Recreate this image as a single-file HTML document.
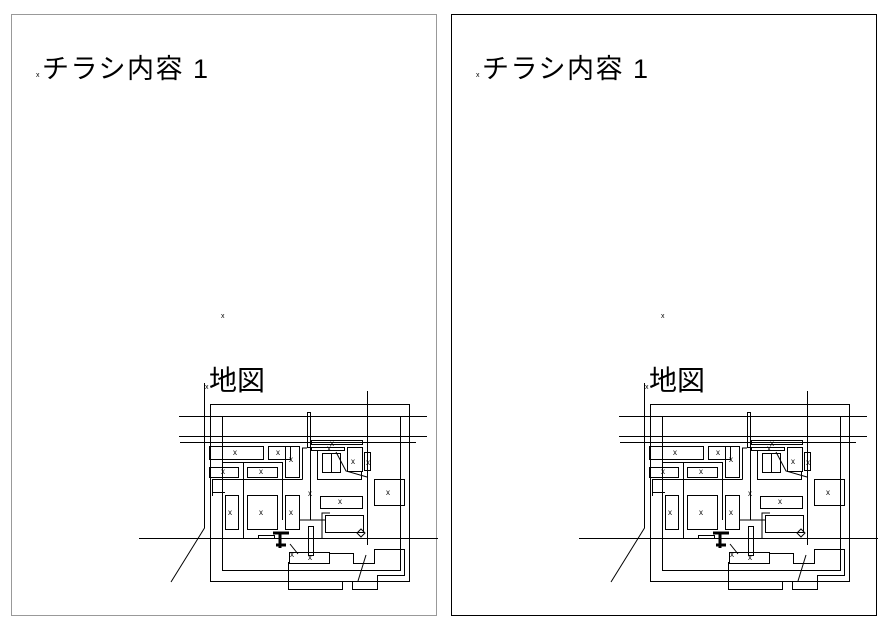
<!DOCTYPE html>
<html><head><meta charset="utf-8"><style>
html,body{margin:0;padding:0;background:#fff;width:894px;height:634px;overflow:hidden}
svg{display:block}
text{font-family:"Liberation Sans","Noto Sans CJK JP",sans-serif}
</style></head><body>
<svg width="894" height="634" viewBox="0 0 894 634" xmlns="http://www.w3.org/2000/svg">
<defs>
<g id="pg" fill="none" stroke="#000" stroke-width="1">
  <text x="42" y="78" font-size="27" letter-spacing="1.5" fill="#000" stroke="none">チラシ内容 1</text>
  <text x="36" y="77" font-size="7" fill="#000" stroke="none">x</text>
  <text x="221" y="318" font-size="7" fill="#000" stroke="none">x</text>
  <text x="209" y="390" font-size="28" fill="#000" stroke="none">地図</text>
  <text x="205" y="389" font-size="7" fill="#000" stroke="none">x</text>
  <rect x="210.5" y="404.5" width="199" height="177"/>
  <rect x="222.5" y="416.5" width="178" height="154"/>
  <line x1="179" y1="416.5" x2="427" y2="416.5"/>
  <line x1="179" y1="436.5" x2="427" y2="436.5"/>
  <line x1="180" y1="442.5" x2="416" y2="442.5"/>
  <line x1="139" y1="538.5" x2="438" y2="538.5"/>
  <polyline points="204.5,383 204.5,528 171,582"/>
  <polyline points="367.5,391 367.5,545"/>
  <line x1="366" y1="555" x2="358" y2="581"/>
  <rect x="209.5" y="446.5" width="54" height="13"/>
  <rect x="268.5" y="446.5" width="22" height="13"/>
  <rect x="285.5" y="446.5" width="14" height="31"/>
  <rect x="209.5" y="467.5" width="29" height="10"/>
  <rect x="247.5" y="467.5" width="30" height="10"/>
  <polyline points="212.5,496 212.5,479.5 302.5,479.5"/>
  <polyline points="212.5,479.5 212.5,492.5 225,492.5"/>
  <rect x="225.5" y="495.5" width="13" height="34"/>
  <rect x="247.5" y="495.5" width="30" height="34"/>
  <rect x="285.5" y="495.5" width="14" height="34"/>
  <line x1="243.5" y1="462" x2="243.5" y2="538"/>
  <line x1="282.5" y1="462" x2="282.5" y2="520"/>
  <polyline points="222.5,462.5 282.5,462.5"/>
  <polyline points="302.5,479.5 302.5,448 307,448"/>
  <rect x="307.5" y="412.5" width="3" height="35"/>
  <polyline points="310.5,447 310.5,520 300,520"/>
  <rect x="311.5" y="440.5" width="51" height="4"/>
  <rect x="311.5" y="447.5" width="33" height="3"/>
  <polyline points="317.5,451 317.5,479.5 361.5,479.5 361.5,471"/>
  <rect x="322.5" y="453.5" width="18" height="19"/>
  <line x1="331.5" y1="453" x2="331.5" y2="472"/>
  <polyline points="336,452 346,471 367,477"/>
  <rect x="347.5" y="447.5" width="15" height="24"/>
  <rect x="364.5" y="452.5" width="6" height="18"/>
  <rect x="374.5" y="479.5" width="30" height="26"/>
  <rect x="320.5" y="496.5" width="42" height="12"/>
  <rect x="325.5" y="515.5" width="38" height="17"/>
  <polyline points="322,538 322,513 330,513"/>
  <polyline points="300,520 325,520"/>
  <rect x="258.5" y="535.5" width="16" height="3"/>
  <rect x="308.5" y="526.5" width="5" height="29"/>
  <rect x="289.5" y="552.5" width="40" height="11"/>
  <line x1="290" y1="544" x2="298" y2="554"/>
  <polyline points="288.5,562 288.5,589.5 342.5,589.5 342.5,581.5 352.5,581.5 352.5,589.5 377.5,589.5 377.5,575.5 404.5,575.5 404.5,549.5 374.5,549.5 374.5,563.5 353.5,563.5 353.5,553.5 329,553.5"/>
  <g stroke-width="3"><line x1="273" y1="533" x2="289" y2="533"/><line x1="276" y1="545" x2="286" y2="545"/><line x1="280" y1="533" x2="280" y2="548"/></g>
  <path d="M361,529 l4,4 l-4,4 l-4,-4z"/>
  <g font-size="8" fill="#000" stroke="none">
    <text x="233" y="455">x</text><text x="276" y="455">x</text><text x="289" y="462">x</text>
    <text x="221" y="474">x</text><text x="259" y="474">x</text>
    <text x="228" y="515">x</text><text x="259" y="515">x</text><text x="289" y="515">x</text>
    <text x="351" y="464">x</text><text x="386" y="495">x</text><text x="338" y="504">x</text>
    <text x="308" y="496">x</text><text x="330" y="446">x</text><text x="327" y="451">x</text>
    <text x="366" y="465">x</text><text x="308" y="560">x</text><text x="290" y="557">x</text>
  </g>
</g>
</defs>
<rect x="11.5" y="14.5" width="425" height="601" fill="none" stroke="#999" stroke-width="1"/>
<rect x="451.5" y="14.5" width="425" height="601" fill="none" stroke="#000" stroke-width="1"/>
<use href="#pg"/>
<use href="#pg" transform="translate(440,0)"/>
</svg>
</body></html>
